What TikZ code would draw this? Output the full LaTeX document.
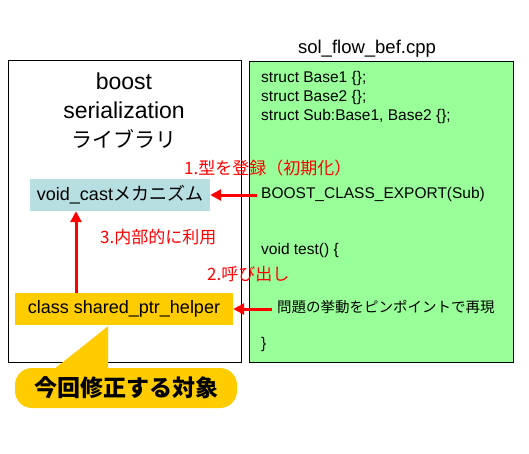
\documentclass[tikz,border=0pt]{standalone}
\usepackage{fontspec}
\setmainfont{Liberation Sans}
\newfontfamily\jpfont{Noto Sans CJK JP}
\usetikzlibrary{arrows.meta,calc}
\definecolor{codegreen}{RGB}{153,255,153}
\definecolor{castblue}{RGB}{183,222,225}
\definecolor{helperyellow}{RGB}{255,204,0}

\begin{document}
\begin{tikzpicture}[x=1pt, y=-1pt,
                font=\fontsize{15.5}{19}\selectfont,
                libbox/.style={rectangle, draw=black, line width=1pt, fill=white, minimum width=233pt, minimum height=302pt, inner sep=0pt},
                codebox/.style={rectangle, draw=black, line width=1pt, fill=codegreen, minimum width=264pt, minimum height=301pt, inner sep=0pt},
                castbox/.style={rectangle, fill=castblue, minimum width=180pt, minimum height=32pt, inner sep=0pt, font=\fontsize{18}{22}\selectfont},
                helperbox/.style={rectangle, fill=helperyellow, minimum width=218pt, minimum height=32pt, inner sep=0pt, font=\fontsize{18}{22}\selectfont},
                calloutbox/.style={rectangle, fill=helperyellow, rounded corners=17pt, minimum width=222pt, minimum height=40pt, inner sep=0pt, font=\jpfont\bfseries\fontsize{23}{27}\selectfont},
                codeline/.style={anchor=base west, inner sep=0pt},
                redlabel/.style={anchor=base west, inner sep=0pt, text=red, font=\jpfont\fontsize{17}{20}\selectfont},
                arr/.style={-{Triangle[length=11pt, width=11pt]}, line width=3pt, red},
            ]
            \useasboundingbox (0,0) rectangle (529,453);

            % frames
            \node[libbox] (lib) at (124.5,211) {};
            \node[codebox] (code) at (381,211.5) {};
            \node[anchor=base, inner sep=0pt, font=\fontsize{18.5}{22}\selectfont] (file) at (367,53) {sol\_flow\_bef.cpp};
            \node[align=center, inner sep=0pt, font=\fontsize{23}{29}\selectfont] (libname) at (124,111) {boost\\serialization\\{\jpfont\fontsize{21}{29}\selectfont ライブラリ}};

            % library side
            \node[castbox] (vc) at (120,195) {void\_cast{\jpfont メカニズム}};
            \node[helperbox] (hp) at (124,309) {class shared\_ptr\_helper};
            \node[calloutbox] (target) at (126,388) {今回修正する対象};
            \fill[helperyellow] ($(target.north)+(-74,3)$) -- ($(hp.south)+(-16,1)$) -- ($(target.north)+(-18,3)$) -- cycle;

            % code side
            \node[codeline] (base1) at (261,82) {struct Base1 \{\};};
            \node[codeline] (base2) at (261,101) {struct Base2 \{\};};
            \node[codeline] (sub) at (261,120) {struct Sub:Base1, Base2 \{\};};
            \node[codeline] (export) at (261,198) {BOOST\_CLASS\_EXPORT(Sub)};
            \node[codeline] (test) at (261,254) {void test() \{};
            \node[codeline, font=\jpfont\fontsize{14.5}{18}\selectfont] (pin) at (277,312) {問題の挙動をピンポイントで再現};
            \node[codeline] (close) at (261,348) {\}};

            % labels
            \node[redlabel] (lbl1) at (184,174) {1.型を登録（初期化）};
            \node[redlabel] (lbl3) at (100,243) {3.内部的に利用};
            \node[redlabel] (lbl2) at (207,280) {2.呼び出し};

            % arrows
            \coordinate (exp1) at ($(vc.east -| export.west)+(-4,0)$);
            \coordinate (pin1) at ($(hp.east -| pin.west)+(-5,0)$);
            \coordinate (up1) at ($(hp.north)+(-48,0)$);
            \draw[arr] (exp1) -- (vc.east);
            \draw[arr] (pin1) -- (hp.east);
            \draw[arr] (up1) -- (up1 |- vc.south);
        \end{tikzpicture}
\end{document}
